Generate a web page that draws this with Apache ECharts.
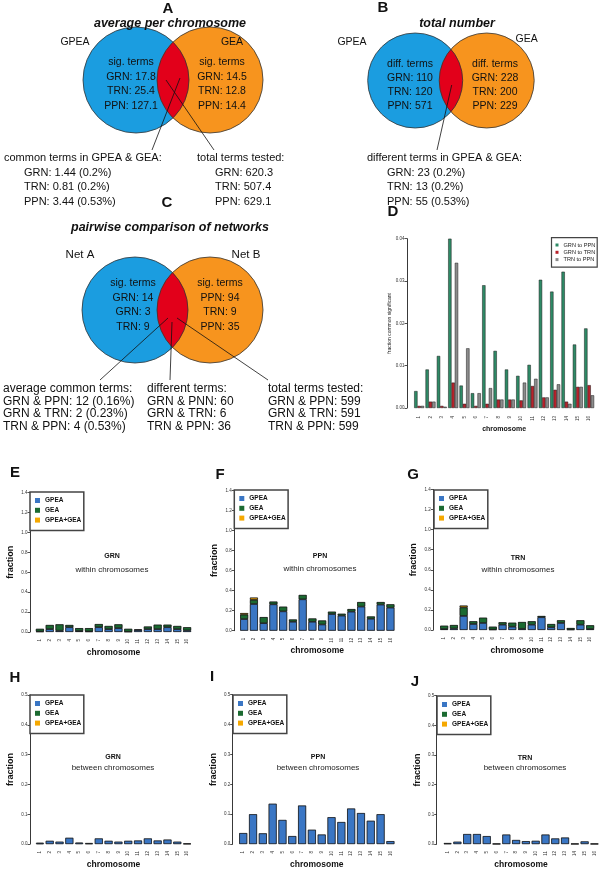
<!DOCTYPE html>
<html><head><meta charset="utf-8">
<script src="https://cdn.jsdelivr.net/npm/echarts@6/dist/echarts.min.js"></script>
<style>html,body{margin:0;padding:0;background:#fff}#c{width:600px;height:870px}</style>
</head><body><div id="c"></div>
<script>
// ---------------- DATA ----------------
const chromosomes = ['1','2','3','4','5','6','7','8','9','10','11','12','13','14','15','16'];

// Panel D: fraction common significant
const dGrnToPpn = [0.0040,0.0091,0.0123,0.0400,0.0053,0.0035,0.0290,0.0135,0.0091,0.0076,0.0102,0.0303,0.0275,0.0322,0.0150,0.0188];
const dGrnToTrn = [0.0005,0.0015,0.0005,0.0060,0.0010,0.0005,0.0010,0.0020,0.0020,0.0018,0.0052,0.0025,0.0043,0.0015,0.0050,0.0054];
const dTrnToPpn = [0.0005,0.0015,0.0003,0.0343,0.0141,0.0035,0.0047,0.0020,0.0020,0.0060,0.0069,0.0025,0.0056,0.0010,0.0050,0.0030];
const dYTicks = [0,0.01,0.02,0.03,0.04];

// Panels E-G: within chromosomes
const eGPEA = [0.005,0.029,0.013,0.048,0.010,0.006,0.048,0.029,0.039,0.003,0.020,0.029,0.029,0.048,0.029,0.016];
const eGEA  = [0.027,0.042,0.064,0.023,0.029,0.033,0.032,0.032,0.038,0.029,0.006,0.026,0.045,0.026,0.032,0.032];
const eBoth = [0,0,0,0,0,0,0,0,0,0,0,0,0,0,0,0];
const fGPEA = [0.116,0.266,0.075,0.263,0.193,0.089,0.313,0.089,0.062,0.166,0.150,0.190,0.240,0.119,0.260,0.230];
const fGEA  = [0.044,0.041,0.061,0.027,0.047,0.023,0.044,0.033,0.040,0.024,0.019,0.026,0.046,0.023,0.026,0.033];
const fBoth = [0.016,0.023,0,0,0,0,0,0,0,0,0,0,0,0,0,0];
const gGPEA = [0.010,0.015,0.140,0.060,0.070,0.005,0.053,0.033,0.012,0.053,0.127,0.027,0.070,0.005,0.053,0.010];
const gGEA  = [0.033,0.035,0.085,0.027,0.053,0.028,0.024,0.040,0.068,0.034,0.013,0.033,0.027,0.015,0.044,0.037];
const gBoth = [0,0,0.018,0,0,0,0,0,0,0,0,0,0,0,0,0];
const withinYTicks = [0,0.2,0.4,0.6,0.8,1.0,1.2,1.4];

// Panels H-J: between chromosomes
const hGPEA = [0.004,0.011,0.008,0.021,0.005,0.003,0.019,0.011,0.008,0.011,0.012,0.019,0.012,0.015,0.008,0.002];
const hGEA  = [0,0,0,0,0,0,0,0,0,0,0,0,0,0,0,0];
const hBoth = [0,0,0,0,0,0,0,0,0,0,0,0,0,0,0,0];
const iGPEA = [0.037,0.100,0.036,0.135,0.081,0.027,0.129,0.048,0.032,0.090,0.074,0.119,0.104,0.078,0.100,0.010];
const iGEA  = [0,0,0,0,0,0,0,0,0,0,0,0,0,0,0,0];
const iBoth = [0,0,0,0,0,0,0,0,0,0,0,0,0,0,0,0];
const jGPEA = [0.003,0.008,0.034,0.034,0.027,0.001,0.032,0.014,0.010,0.011,0.032,0.019,0.022,0.001,0.009,0.001];
const jGEA  = [0,0,0,0,0,0,0,0,0,0,0,0,0,0,0,0];
const jBoth = [0,0,0,0,0,0,0,0,0,0,0,0,0,0,0,0];
const betweenYTicks = [0,0.1,0.2,0.3,0.4,0.5];

// Venn texts
const aLeftText  = ['sig. terms','GRN: 17.8','TRN: 25.4','PPN: 127.1'];
const aRightText = ['sig. terms','GRN: 14.5','TRN: 12.8','PPN: 14.4'];
const aCommonText = ['common terms in GPEA & GEA:','GRN: 1.44 (0.2%)','TRN: 0.81 (0.2%)','PPN: 3.44 (0.53%)'];
const aTotalText  = ['total terms tested:','GRN: 620.3','TRN: 507.4','PPN: 629.1'];
const bLeftText  = ['diff. terms','GRN: 110','TRN: 120','PPN: 571'];
const bRightText = ['diff. terms','GRN: 228','TRN: 200','PPN: 229'];
const bDiffText  = ['different terms in GPEA & GEA:','GRN: 23 (0.2%)','TRN: 13 (0.2%)','PPN: 55 (0.53%)'];
const cLeftText  = ['sig. terms','GRN: 14','GRN: 3','TRN: 9'];
const cRightText = ['sig. terms','PPN: 94','TRN: 9','PPN: 35'];
const cCommonText = ['average common terms:','GRN & PPN: 12 (0.16%)','GRN & TRN: 2 (0.23%)','TRN & PPN: 4 (0.53%)'];
const cDiffText   = ['different terms:','GRN & PNN: 60','GRN & TRN: 6','TRN & PPN: 36'];
const cTotalText  = ['total terms tested:','GRN & PPN: 599','GRN & TRN: 591','TRN & PPN: 599'];

// ---------------- STYLE / LAYOUT ----------------
const FONT = '"Liberation Sans", Arial, Helvetica, sans-serif';
const C_BLUE = '#1b9de0', C_ORANGE = '#f7941e', C_RED = '#e2001a';
const S_GPEA = '#3a76c4', S_GEA = '#1b6a31', S_BOTH = '#f5a800';
const D_COLORS = ['#2e8a66','#b8222b','#8c8c8c'];

const grids = [], xAxes = [], yAxes = [], series = [], legends = [], graphics = [];

function txt(str, x, y, size, o) {
  o = o || {};
  return {type:'text', x:x, y:y, z:50, silent:true, style:{text:str, fontSize:size, fontFamily:FONT,
    fontWeight:o.w||'normal', fontStyle:o.i?'italic':'normal', fill:o.fill||'#111',
    textAlign:o.align||'left', textVerticalAlign:'middle'}};
}
function ln(x1,y1,x2,y2){ return {type:'line', z:40, silent:true, shape:{x1,y1,x2,y2}, style:{stroke:'#111', lineWidth:0.8}}; }

function venn(x1, x2, cy, r) {
  const xm = (x1+x2)/2, dx = xm-x1, h = Math.sqrt(r*r - dx*dx);
  const a = Math.atan2(h, dx), pts = [], N = 40;
  for (let k=0;k<=N;k++){ const t = -a + 2*a*k/N; pts.push([x1 + r*Math.cos(t), cy + r*Math.sin(t)]); }
  for (let k=0;k<=N;k++){ const t = Math.PI - a + 2*a*k/N; pts.push([x2 + r*Math.cos(t), cy + r*Math.sin(t)]); }
  graphics.push({type:'circle', z:10, silent:true, shape:{cx:x1, cy:cy, r:r}, style:{fill:C_BLUE}});
  graphics.push({type:'circle', z:11, silent:true, shape:{cx:x2, cy:cy, r:r}, style:{fill:C_ORANGE}});
  graphics.push({type:'polygon', z:12, silent:true, shape:{points:pts}, style:{fill:C_RED}});
  graphics.push({type:'circle', z:13, silent:true, shape:{cx:x1, cy:cy, r:r}, style:{fill:'none', stroke:'#333', lineWidth:0.8}});
  graphics.push({type:'circle', z:13, silent:true, shape:{cx:x2, cy:cy, r:r}, style:{fill:'none', stroke:'#333', lineWidth:0.8}});
}
function block(lines, x, y0, dy, size, indent, align) {
  lines.forEach((s,k)=>graphics.push(txt(s, x + (k>0?indent:0), y0 + k*dy, size, {align:align||'left'})));
}

// ---- Panel A ----
graphics.push(txt('A', 168, 9, 15, {w:'bold', align:'center'}));
graphics.push(txt('average per chromosome', 170, 24, 12.5, {w:'bold', i:true, align:'center'}));
venn(136, 210, 80, 53);
graphics.push(txt('GPEA', 75, 42, 10.5, {align:'center'}));
graphics.push(txt('GEA', 232, 42, 10.5, {align:'center'}));
block(aLeftText, 131, 62, 14.7, 10.5, 0, 'center');
block(aRightText, 222, 62, 14.7, 10.5, 0, 'center');
block(aCommonText, 4, 158, 14.5, 11, 20);
block(aTotalText, 197, 158, 14.5, 11, 18);
graphics.push(ln(180,78,152,150)); graphics.push(ln(166,80,214,150));

// ---- Panel B ----
graphics.push(txt('B', 383, 8, 15, {w:'bold', align:'center'}));
graphics.push(txt('total number', 457, 24, 12.5, {w:'bold', i:true, align:'center'}));
venn(415.2, 486.7, 80.5, 47.5);
graphics.push(txt('GPEA', 352, 42, 10.5, {align:'center'}));
graphics.push(txt('GEA', 526.7, 39.3, 10.5, {align:'center'}));
block(bLeftText, 410, 64, 14.2, 10.5, 0, 'center');
block(bRightText, 495, 64, 14.2, 10.5, 0, 'center');
block(bDiffText, 367, 158, 14.5, 11, 20);
graphics.push(ln(451.7,85,437,150));

// ---- Panel C ----
graphics.push(txt('C', 167, 203, 15, {w:'bold', align:'center'}));
graphics.push(txt('pairwise comparison of networks', 170, 228, 12.5, {w:'bold', i:true, align:'center'}));
venn(135, 210, 310, 53);
graphics.push(txt('Net A', 80, 255, 11.5, {align:'center'}));
graphics.push(txt('Net B', 246, 255, 11.5, {align:'center'}));
block(cLeftText, 133, 283, 14.7, 10.5, 0, 'center');
block(cRightText, 220, 283, 14.7, 10.5, 0, 'center');
block(cCommonText, 3, 388.5, 12.7, 12, 0);
block(cDiffText, 147, 388.5, 12.7, 12, 0);
block(cTotalText, 268, 388.5, 12.7, 12, 0);
graphics.push(ln(168,318,100,380)); graphics.push(ln(172,322,170,380)); graphics.push(ln(177,318,268,380));

// ---- Panel D ----
graphics.push(txt('D', 393, 212, 15, {w:'bold', align:'center'}));
(function(){
  const gi = grids.length;
  grids.push({left:413.5, top:238.7, width:181.3, height:169.3});
  xAxes.push({gridIndex:gi, type:'category', data:chromosomes,
    axisLine:{show:false}, axisTick:{show:false},
    axisLabel:{interval:0, rotate:90, fontSize:4.5, color:'#333', margin:8, fontFamily:FONT},
    name:'chromosome', nameLocation:'middle', nameGap:17.5,
    nameTextStyle:{fontSize:7, fontWeight:'bold', color:'#111', fontFamily:FONT}});
  yAxes.push({gridIndex:gi, type:'value', min:dYTicks[0], max:dYTicks[dYTicks.length-1], interval:dYTicks[1]-dYTicks[0], offset:6.5,
    axisLine:{show:true, lineStyle:{color:'#222', width:0.9}},
    axisTick:{show:true, length:2.5, lineStyle:{color:'#222', width:0.8}},
    axisLabel:{fontSize:4.5, color:'#333', margin:2.5, fontFamily:FONT, formatter:v=>v.toFixed(2)},
    splitLine:{show:false},
    name:'fraction common significant', nameLocation:'middle', nameGap:12.5,
    nameTextStyle:{fontSize:5, color:'#222', fontFamily:FONT}});
  const names = ['GRN to PPN','GRN to TRN','TRN to PPN'];
  [dGrnToPpn, dGrnToTrn, dTrnToPpn].forEach((arr,k)=>{
    series.push({type:'bar', name:names[k], xAxisIndex:gi, yAxisIndex:gi, data:arr,
      barGap:'0%', barCategoryGap:'12%',
      itemStyle:{color:D_COLORS[k], borderColor:'#1a1a1a', borderWidth:0.5}});
  });
  legends.push({data:names.map((n,k)=>({name:n, itemStyle:{color:D_COLORS[k], borderWidth:0}})),
    orient:'vertical', left:551.5, top:237.7, icon:'rect',
    itemWidth:3, itemHeight:3, itemGap:1.3, padding:[4.3,2,4.6,4],
    borderColor:'#444', borderWidth:1.2, backgroundColor:'#fff',
    textStyle:{fontSize:5.6, lineHeight:6, color:'#222', fontFamily:FONT}});
})();

// ---- Panels E-J ----
const panels = [
  {L:'E', lx:15, ly:473, grid:{left:35, top:492.7, width:157, height:139.3}, off:5, ticks:withinYTicks, d:[eGPEA,eGEA,eBoth], t:'GRN', s:'within chromosomes', tx:112, ty:556, sy:570, lg:[30,492]},
  {L:'F', lx:220, ly:475, grid:{left:239.3, top:490.3, width:156, height:140.4}, off:5, ticks:withinYTicks, d:[fGPEA,fGEA,fBoth], t:'PPN', s:'within chromosomes', tx:320, ty:556, sy:569, lg:[234.3,490]},
  {L:'G', lx:413, ly:475, grid:{left:439.3, top:489.5, width:155.7, height:140.5}, off:6, ticks:withinYTicks, d:[gGPEA,gGEA,gBoth], t:'TRN', s:'within chromosomes', tx:518, ty:558, sy:570, lg:[434,490]},
  {L:'H', lx:15, ly:678, grid:{left:35, top:695, width:157, height:150.7}, off:5, ticks:betweenYTicks, d:[hGPEA,hGEA,hBoth], t:'GRN', s:'between chromosomes', tx:113, ty:757, sy:768, lg:[30,695]},
  {L:'I', lx:212, ly:677, grid:{left:238.3, top:694.7, width:157, height:150.3}, off:5.6, ticks:betweenYTicks, d:[iGPEA,iGEA,iBoth], t:'PPN', s:'between chromosomes', tx:318, ty:757, sy:768, lg:[233,695]},
  {L:'J', lx:415, ly:682, grid:{left:442.7, top:695.7, width:156.6, height:150}, off:6, ticks:betweenYTicks, d:[jGPEA,jGEA,jBoth], t:'TRN', s:'between chromosomes', tx:525, ty:758, sy:768, lg:[437,696]}
];
const stackNames = ['GPEA','GEA','GPEA+GEA'];
const stackColors = [S_GPEA, S_GEA, S_BOTH];
panels.forEach(p=>{
  const gi = grids.length;
  grids.push(p.grid);
  graphics.push(txt(p.L, p.lx, p.ly, 15, {w:'bold', align:'center'}));
  graphics.push(txt(p.t, p.tx, p.ty, 7, {w:'bold', align:'center'}));
  graphics.push(txt(p.s, p.tx, p.sy, 8, {align:'center', fill:'#222'}));
  const step = p.ticks[1]-p.ticks[0];
  xAxes.push({gridIndex:gi, type:'category', data:chromosomes,
    axisLine:{show:false}, axisTick:{show:false},
    axisLabel:{interval:0, rotate:90, fontSize:4.5, color:'#333', margin:7, fontFamily:FONT},
    name:'chromosome', nameLocation:'middle', nameGap:15.5,
    nameTextStyle:{fontSize:8.5, fontWeight:'bold', color:'#111', fontFamily:FONT}});
  yAxes.push({gridIndex:gi, type:'value', min:p.ticks[0], max:p.ticks[p.ticks.length-1], interval:step, offset:p.off,
    axisLine:{show:true, lineStyle:{color:'#222', width:0.9}},
    axisTick:{show:true, length:2.5, lineStyle:{color:'#222', width:0.8}},
    axisLabel:{fontSize:4.5, color:'#333', margin:2.5, fontFamily:FONT, formatter:v=>v.toFixed(1)},
    splitLine:{show:false},
    name:'fraction', nameLocation:'middle', nameGap:15,
    nameTextStyle:{fontSize:9, fontWeight:'bold', color:'#111', fontFamily:FONT}});
  const totals = chromosomes.map((c,k)=>p.d[0][k]+p.d[1][k]+p.d[2][k]);
  series.push({type:'bar', name:'outline', xAxisIndex:gi, yAxisIndex:gi, data:totals, z:2, silent:true,
    barGap:'-100%', barCategoryGap:'18%',
    itemStyle:{color:'#888', borderColor:'#8a8a8a', borderWidth:1.8}});
  p.d.forEach((arr,k)=>{
    series.push({type:'bar', name:stackNames[k], xAxisIndex:gi, yAxisIndex:gi, stack:'st'+gi, z:3,
      data:arr.map(v=>v>0?v:null), barGap:'-100%', barCategoryGap:'18%',
      itemStyle:{color:stackColors[k], borderColor:'#111', borderWidth:0.7}});
  });
  legends.push({data:stackNames.map((n,k)=>({name:n, itemStyle:{color:stackColors[k], borderWidth:0}})),
    orient:'vertical', left:p.lg[0], top:p.lg[1], icon:'rect',
    itemWidth:5, itemHeight:5, itemGap:2.8, padding:[5,2.5,7,5],
    borderColor:'#444', borderWidth:1.5, backgroundColor:'#fff',
    textStyle:{fontSize:6.5, lineHeight:6.5, fontWeight:'bold', color:'#111', fontFamily:FONT}});
});

const chart = echarts.init(document.getElementById('c'), null, {renderer:'canvas'});
chart.setOption({
  animation:false, backgroundColor:'#fff',
  grid:grids, xAxis:xAxes, yAxis:yAxes, series:series, legend:legends, graphic:graphics
});
</script></body></html>
